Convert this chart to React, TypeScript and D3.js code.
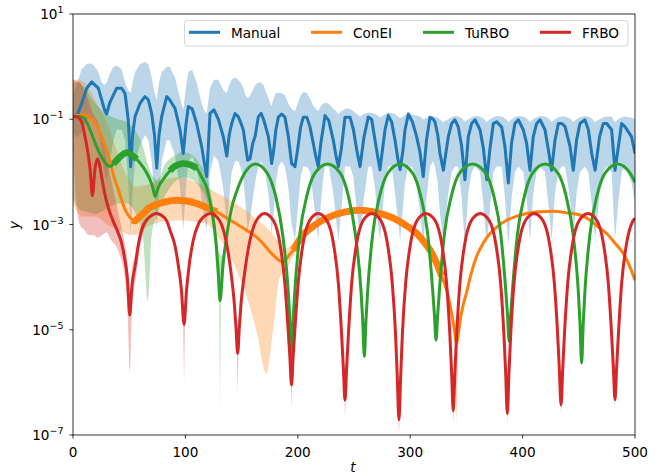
import React from "react";
import * as d3 from "d3";

// All y values are log10(y).
// Manual: [t, mean, lower, upper]
const manual: number[][] = [
  [0, -0.95, -1.25, -0.55], [3.8, -0.92, -1.35, -0.3], [7.7, -0.7, -1.25, -0.05], [12.2, -0.41, -1.0, 0.05],
  [16.6, -0.29, -0.95, 0.06], [19.6, -0.35, -1.0, 0.0], [22.5, -0.41, -1.2, -0.1], [25.5, -0.63, -1.6, -0.3],
  [28, -0.82, -2.0, -0.35], [30, -0.9, -2.2, -0.3], [32.5, -0.7, -1.8, -0.15], [35.9, -0.54, -1.4, 0.0],
  [38.9, -0.41, -1.2, 0.02], [43.3, -0.41, -1.2, -0.05], [46.3, -0.51, -1.4, -0.3], [49.2, -1.02, -2.2, -0.45],
  [51.3, -1.9, -3.2, -0.5], [53, -1.3, -2.4, -0.3], [55.2, -0.95, -1.8, -0.1], [59.6, -0.7, -1.5, 0.05],
  [64, -0.57, -1.3, 0.09], [67, -0.63, -1.4, 0.05], [70, -0.89, -1.8, -0.2], [72.5, -1.3, -2.4, -0.5],
  [74.5, -1.93, -3.1, -0.63], [76.5, -1.3, -2.4, -0.3], [78.9, -0.95, -1.8, -0.1], [83.4, -0.57, -1.4, 0.0],
  [86, -0.63, -1.4, 0.0], [90.7, -0.79, -1.7, -0.2], [95.2, -1.2, -2.3, -0.6], [98.1, -1.65, -3.1, -0.82],
  [100.5, -1.1, -2.3, -0.4], [102.6, -0.76, -1.8, -0.1], [106, -0.8, -1.7, -0.06], [110, -1.08, -1.9, -0.3],
  [114.5, -1.52, -2.5, -0.7], [117, -1.85, -2.9, -0.85], [119, -2.09, -3.1, -0.89], [121.9, -0.89, -2.0, -0.4],
  [125.4, -0.82, -1.7, -0.25], [129.3, -1.0, -1.8, -0.25], [133.7, -1.33, -2.3, -0.45], [136.8, -1.7, -3.0, -0.5],
  [139, -1.3, -2.5, -0.35], [141.2, -1.08, -2.0, -0.25], [144.2, -0.89, -1.8, -0.2], [147, -0.95, -1.8, -0.25],
  [149, -1.05, -1.9, -0.3], [151.5, -1.2, -2.1, -0.4], [153.5, -1.5, -2.6, -0.55], [155.4, -1.78, -3.1, -0.6],
  [157.5, -1.75, -2.9, -0.55], [160, -1.45, -2.5, -0.45], [162, -1.33, -2.2, -0.35], [164.9, -0.95, -1.9, -0.3],
  [167.3, -0.89, -1.8, -0.3], [169.5, -1.0, -1.9, -0.35], [171, -1.11, -2.0, -0.45], [173.8, -1.33, -2.4, -0.6],
  [175.5, -1.6, -2.8, -0.7], [176.7, -1.84, -3.2, -0.75], [178.5, -1.6, -2.8, -0.6], [180.5, -1.2, -2.2, -0.5],
  [182.7, -0.96, -1.9, -0.5], [185.6, -0.9, -1.8, -0.5], [188.6, -0.96, -1.9, -0.55], [191.6, -1.33, -2.3, -0.7],
  [194.5, -1.84, -3.0, -0.8], [197.5, -1.9, -3.3, -0.85], [200, -1.55, -2.7, -0.7], [202.5, -1.15, -2.1, -0.55],
  [204.9, -0.96, -1.9, -0.48], [208, -0.96, -1.9, -0.5], [210.8, -1.14, -2.0, -0.6], [213.8, -1.46, -2.5, -0.75],
  [216, -1.7, -2.9, -0.8], [218.2, -1.9, -3.3, -0.85], [220.5, -1.45, -2.6, -0.75], [222.7, -1.15, -2.1, -0.7],
  [224.2, -0.93, -1.9, -0.68], [227.5, -1.02, -1.9, -0.7], [231.6, -1.4, -2.4, -0.8], [234, -1.7, -2.9, -0.85],
  [236.1, -1.9, -3.3, -0.9], [238.8, -1.55, -2.7, -0.85], [242, -0.96, -1.9, -0.8], [246.5, -0.96, -1.9, -0.8],
  [249.5, -1.2, -2.1, -0.85], [252.4, -1.58, -2.7, -0.9], [255.4, -1.9, -3.3, -0.95], [258.8, -1.35, -2.5, -0.9],
  [262.7, -0.96, -1.9, -0.87], [265.7, -1.0, -1.9, -0.88], [268.7, -1.4, -2.3, -0.9], [271, -1.7, -2.9, -0.93],
  [273.1, -1.96, -3.3, -0.97], [277.6, -1.2, -2.2, -0.9], [280.5, -0.93, -1.9, -0.87], [283.5, -1.05, -1.9, -0.88],
  [286.5, -1.4, -2.4, -0.9], [289, -1.75, -2.9, -0.95], [291, -1.96, -3.3, -0.98], [293.5, -1.6, -2.7, -0.95],
  [295.4, -1.2, -2.2, -0.92], [298.4, -0.9, -1.9, -0.9], [302, -1.05, -1.9, -0.92], [305.7, -1.33, -2.3, -0.93],
  [308.5, -1.6, -2.7, -0.95], [311.6, -2.09, -3.4, -1.0], [314.5, -1.4, -2.5, -0.97], [317.6, -0.96, -1.9, -0.94],
  [320.5, -1.0, -1.8, -0.94], [322, -1.05, -1.9, -0.95], [324.5, -1.3, -2.2, -0.97], [326.5, -1.65, -2.8, -1.0],
  [329.5, -1.97, -3.3, -1.05], [333.9, -1.33, -2.4, -1.0], [336.9, -1.08, -2.0, -0.96], [339.8, -1.01, -1.9, -0.94],
  [342.8, -1.15, -1.9, -0.95], [345.8, -1.52, -2.5, -0.98], [348.7, -2.15, -3.4, -1.05], [351.7, -1.33, -2.4, -1.0],
  [354.7, -1.08, -2.0, -0.96], [357.7, -1.01, -1.9, -0.94], [362.1, -1.2, -2.0, -0.95], [365.1, -1.55, -2.6, -0.98],
  [368.1, -2.15, -3.4, -1.05], [371, -1.55, -2.7, -1.0], [374, -1.08, -2.0, -0.96], [377, -1.05, -1.9, -0.94],
  [381.4, -1.15, -1.9, -0.95], [384.3, -1.52, -2.5, -0.98], [387.3, -2.21, -3.4, -1.05], [390.2, -1.45, -2.5, -1.0],
  [393.2, -1.08, -2.0, -0.96], [396.2, -1.01, -1.9, -0.94], [400.6, -1.2, -2.0, -0.95], [403.6, -1.46, -2.5, -0.98],
  [406.6, -1.97, -3.3, -1.05], [409.5, -1.33, -2.4, -1.0], [412.5, -1.08, -2.0, -0.96], [415.5, -1.01, -1.9, -0.94],
  [419.9, -1.2, -2.0, -0.95], [422.9, -1.58, -2.6, -0.98], [425.8, -1.97, -3.3, -1.05], [428.8, -1.4, -2.4, -1.0],
  [431.8, -1.08, -2.0, -0.96], [434.8, -1.08, -1.9, -0.95], [437.8, -1.14, -1.9, -0.95], [442.2, -1.52, -2.5, -0.98],
  [445.1, -1.97, -3.3, -1.05], [448, -1.4, -2.4, -1.0], [451, -1.08, -2.0, -0.96], [455.5, -1.01, -1.9, -0.94],
  [458.5, -1.2, -2.0, -0.95], [461.5, -1.65, -2.6, -0.98], [464.5, -1.97, -3.3, -1.05], [468.5, -1.33, -2.4, -1.0],
  [471.8, -1.08, -2.0, -0.96], [474.8, -1.08, -1.9, -0.95], [479.2, -1.2, -2.0, -0.95], [482.2, -1.97, -3.3, -1.05],
  [485, -1.55, -2.6, -1.0], [488.1, -1.08, -2.0, -0.96], [491, -1.14, -1.9, -0.95], [496.9, -1.33, -2.2, -0.97],
  [500, -1.65, -2.6, -1.0],
];

// ConEI mean: [t, log10 y]
const conei: number[][] = [
  [0, -0.95], [4, -0.93], [8, -0.92], [12.2, -0.93], [15, -0.97], [18, -1.03], [21, -1.12], [24, -1.26],
  [27, -1.42], [30, -1.6], [33, -1.82], [35.9, -2.05], [38, -2.2], [40.3, -2.33], [43, -2.52], [45.6, -2.68],
  [47.7, -2.77], [50, -2.85], [53, -2.91], [55.2, -2.93], [58, -2.88], [62.5, -2.79], [68, -2.68], [74.5, -2.62],
  [82, -2.57], [92.2, -2.54], [100, -2.55], [110, -2.6], [118, -2.67], [127.8, -2.76], [137, -2.88], [145.6, -2.99],
  [155, -3.12], [163.4, -3.24], [169, -3.36], [175.3, -3.52], [180, -3.62], [184, -3.69], [187.1, -3.71], [190, -3.65],
  [193, -3.56], [196, -3.49], [200, -3.34], [205.6, -3.18], [210.9, -3.08], [218, -2.97], [225.7, -2.88], [235, -2.8],
  [245, -2.75], [255.3, -2.73], [265, -2.75], [275, -2.8], [285, -2.88], [295, -3.0], [305.8, -3.17], [312, -3.32],
  [318, -3.5], [323.6, -3.74], [328, -3.98], [331, -4.15], [333.9, -4.37], [336.5, -4.65], [339, -4.95], [341.3, -5.26],
  [343, -5.05], [345, -4.75], [347.5, -4.5], [350.3, -4.28], [354, -3.95], [359.2, -3.6], [365, -3.35], [371, -3.17],
  [378, -3.03], [385.8, -2.92], [395, -2.84], [403.6, -2.79], [415, -2.76], [427.3, -2.75], [440, -2.78], [451, -2.82],
  [460, -2.92], [467, -3.04], [474.8, -3.17], [482, -3.35], [489.6, -3.55], [495, -3.78], [500, -4.06],
];
// ConEI band: [t, lower, upper]
const coneiBand: number[][] = [
  [0, -2.6, -0.25], [5, -2.8, -0.25], [10, -2.85, -0.3], [15, -2.85, -0.45], [20, -2.85, -0.65], [25, -2.9, -0.85],
  [30, -3.0, -1.05], [35, -3.05, -1.35], [40, -3.1, -1.65], [45, -3.15, -1.95], [50, -3.2, -2.15], [55, -3.2, -2.28],
  [65, -3.05, -2.25], [80, -2.95, -2.15], [95, -2.92, -2.1], [110, -2.95, -2.2], [120, -3.0, -2.3], [128, -3.2, -2.4],
  [137, -3.5, -2.5], [146, -3.9, -2.62], [155, -4.4, -2.75], [163, -5.0, -2.9], [172, -5.83, -3.05], [178, -5.0, -3.2],
  [184, -4.0, -3.35], [190, -3.85, -3.45], [196, -3.6, -3.35], [205, -3.3, -3.05],
];
const coneiSpikes: number[][] = [[341.3, -4.9, -6.83, 2.0]];
const coneiThick: number[][] = [[52, 130], [196, 330]];

// TuRBO mean
const turbo: number[][] = [
  [0, -0.95], [4, -0.95], [9.2, -0.97], [12, -1.05], [15.1, -1.2], [18, -1.36], [21, -1.52], [24, -1.66],
  [27, -1.78], [30, -1.86], [33, -1.9], [36, -1.85], [38.9, -1.78], [42, -1.71], [45, -1.66], [47.7, -1.63],
  [51, -1.66], [54, -1.71], [56.7, -1.76], [60, -1.84], [63, -1.93], [65.6, -2.02], [68.5, -2.15], [71, -2.3],
  [73, -2.47], [75, -2.35], [77.5, -2.22], [80, -2.15], [83.4, -2.05], [86.3, -1.98], [90, -1.9], [94, -1.86],
  [98.1, -1.84], [102, -1.85], [106, -1.88], [110, -1.93], [115, -2.12], [119, -2.3], [122.7, -2.65], [125.5, -3.0],
  [127.5, -3.4], [129.2, -3.9], [130.8, -4.45], [133.5, -3.75], [136.7, -3.23], [141, -2.7], [146, -2.35], [152, -2.05],
  [162.3, -1.85], [173, -2.03], [180.4, -2.47], [186.4, -3.17], [191.4, -4.25], [192.9, -4.8], [194.4, -5.61], [195.9, -4.8],
  [197.4, -4.25], [201.9, -3.17], [207.9, -2.47], [215.1, -2.03], [226.5, -1.85], [237.9, -2.03], [245.1, -2.47], [251.1, -3.17],
  [256.2, -4.25], [257.7, -4.8], [259.2, -5.51], [260.7, -4.8], [262.2, -4.25], [266.7, -3.17], [272.7, -2.47], [279.9, -2.03],
  [291, -1.85], [302.3, -2.03], [309.5, -2.47], [315.5, -3.17], [320, -4.25], [321.5, -4.7], [323, -5.2], [324.5, -4.7],
  [326, -4.25], [330.5, -3.17], [336.5, -2.47], [343.7, -2.03], [355.5, -1.85], [367.3, -2.03], [374.5, -2.47], [380.5, -3.17],
  [385, -4.25], [386.5, -4.7], [388, -5.22], [389.5, -4.7], [391, -4.25], [395.5, -3.17], [401.5, -2.47], [408.7, -2.03],
  [420, -1.85], [431.6, -2.03], [438.8, -2.47], [444.8, -3.17], [449.5, -4.25], [451, -4.85], [452.5, -5.63], [454, -4.85],
  [455.5, -4.25], [460, -3.17], [466, -2.47], [473.2, -2.03], [484.5, -1.85], [495.8, -2.03], [500, -2.2],
];
const turboBand: number[][] = [
  [0, -2.5, -0.3], [5, -2.7, -0.3], [10, -2.75, -0.4], [20, -2.8, -0.7], [30, -2.7, -0.9], [40, -2.6, -1.0],
  [48, -2.6, -1.05], [55, -2.75, -1.2], [62, -3.2, -1.5], [66.5, -4.45, -1.85], [70, -3.2, -2.05], [75, -2.8, -2.15],
  [82, -2.45, -1.85], [90, -2.2, -1.7], [98, -2.1, -1.62], [106, -2.15, -1.68], [113, -2.3, -1.85], [120, -2.6, -2.15],
  [125, -3.2, -2.7], [129, -4.1, -3.5], [132.5, -4.2, -3.6], [136, -3.35, -3.15],
];
const turboSpikes: number[][] = [[130.8, -4.2, -6.55, 0.8]];
const turboThick: number[][] = [[36, 58], [85, 112]];

// FRBO mean
const frbo: number[][] = [
  [0, -0.95], [4, -0.96], [7.7, -1.05], [10.7, -1.33], [13, -1.6], [15.2, -1.95], [17.3, -2.45], [19.5, -1.95],
  [21.8, -1.75], [23.5, -1.85], [25.5, -2.1], [28.6, -2.45], [32, -2.72], [36, -2.95], [40, -3.15], [43.3, -3.36],
  [46, -3.65], [48.5, -4.05], [50.5, -4.72], [52.5, -4.15], [55.2, -3.8], [58, -3.4], [61.1, -3.1], [65, -2.93],
  [68.5, -2.85], [74, -2.79], [79, -2.83], [83.4, -2.93], [87, -3.15], [90.7, -3.4], [93.5, -3.75], [96.5, -4.25],
  [98.8, -4.9], [101, -4.25], [103.5, -3.75], [107, -3.3], [112, -2.97], [117, -2.84], [122.5, -2.79],
  [130.5, -2.93], [136.5, -3.35], [140.5, -3.9], [143.5, -4.5], [145, -4.95], [146.5, -5.45], [148, -4.95], [149.5, -4.5],
  [152.5, -3.95], [156.5, -3.4], [162.5, -2.95], [170.4, -2.79],
  [178.4, -2.93], [184.4, -3.4], [188.4, -4.1], [191.4, -5.0], [192.9, -5.5], [194.4, -6.05], [195.9, -5.5], [197.4, -5.0],
  [200.4, -4.1], [204.4, -3.4], [210.4, -2.93], [218.2, -2.79],
  [226, -2.93], [232, -3.4], [236, -4.1], [239, -5.1], [240.5, -5.7], [242, -6.34], [243.5, -5.7], [245, -5.1],
  [248, -4.1], [252, -3.4], [258, -2.93], [266, -2.79],
  [274, -2.93], [280, -3.4], [284, -4.1], [287, -5.1], [288.5, -5.9], [290, -6.71], [291.5, -5.9], [293, -5.1],
  [296, -4.1], [300, -3.4], [306, -2.93], [314, -2.79],
  [322.3, -2.93], [328.3, -3.4], [332.3, -4.1], [335.3, -5.1], [336.8, -5.8], [338.3, -6.54], [339.8, -5.8], [341.3, -5.1],
  [344.3, -4.1], [348.3, -3.4], [354.3, -2.93], [362.3, -2.79],
  [370.4, -2.93], [376.4, -3.4], [380.4, -4.1], [383.4, -5.1], [384.9, -5.8], [386.4, -6.59], [387.9, -5.8], [389.4, -5.1],
  [392.4, -4.1], [396.4, -3.4], [402.4, -2.93], [410.3, -2.79],
  [418.2, -2.93], [424.2, -3.4], [428.2, -4.1], [431.2, -5.1], [432.7, -5.75], [434.2, -6.43], [435.7, -5.75], [437.2, -5.1],
  [440.2, -4.1], [444.2, -3.4], [450.2, -2.93], [458.2, -2.79],
  [466.2, -2.93], [472.2, -3.4], [476.2, -4.1], [479.2, -5.1], [480.7, -5.7], [482.2, -6.33], [483.7, -5.7], [485.2, -5.1],
  [488.2, -4.1], [492.2, -3.4], [498.2, -2.93], [500, -2.88],
];
const frboBand: number[][] = [
  [0, -1.6, -0.25], [3, -2.6, -0.28], [6, -3.0, -0.3], [10, -3.1, -0.45], [14, -3.2, -0.65], [18, -3.2, -0.9],
  [22, -3.25, -1.05], [26, -3.2, -1.35], [30, -3.15, -1.75], [34, -3.3, -2.15], [38, -3.4, -2.55], [42, -3.6, -2.95],
  [46, -4.0, -3.35], [48.5, -4.6, -3.7], [50.5, -5.8, -4.3], [52.5, -4.6, -3.85], [56, -4.0, -3.55], [60, -3.4, -3.05],
  [65, -3.0, -2.88],
];
const frboSpikes: number[][] = [
  [98.8, -4.6, -6.0, 1.0], [146.5, -5.1, -6.2, 1.0], [194.4, -5.8, -6.5, 0.8], [242, -6.1, -6.7, 0.8],
  [290, -6.5, -7.0, 0.8], [338.3, -6.3, -6.8, 0.8], [386.4, -6.3, -6.8, 0.8], [434.2, -6.2, -6.6, 0.8],
  [482.2, -6.1, -6.5, 0.8],
];

const legendLabels = ["Manual", "ConEI", "TuRBO", "FRBO"];
const colors = ["#1f77b4", "#ff7f0e", "#2ca02c", "#d62728"];
const xTickValues = [0, 100, 200, 300, 400, 500];
const yTickExponents = [1, -1, -3, -5, -7];

const W = 663;
const H = 476;
const L = 73, R = 635, T = 14, B = 435;
const FONT = "DejaVu Sans, Verdana, sans-serif";
const FS = 13.6;

export default function App() {
  const x = d3.scaleLinear().domain([0, 500]).range([L, R]);
  const y = d3.scaleLog().domain([1e-7, 10]).range([B, T]);
  const Y = (e: number) => y(Math.pow(10, e));

  const lineM = d3.line<number[]>().x((d) => x(d[0])).y((d) => Y(d[1])).curve(d3.curveMonotoneX);
  const lineLin = d3.line<number[]>().x((d) => x(d[0])).y((d) => Y(d[1])).curve(d3.curveLinear);
  const bandM = d3.area<number[]>().x((d) => x(d[0])).y0((d) => Y(d[1])).y1((d) => Y(d[2])).curve(d3.curveMonotoneX);
  const bandManual = d3.area<number[]>().x((d) => x(d[0])).y0((d) => Y(d[2])).y1((d) => Y(d[3])).curve(d3.curveLinear);

  const spikePath = (s: number[]) =>
    `M${x(s[0] - s[3])},${Y(s[1])}L${x(s[0])},${Y(s[2])}L${x(s[0] + s[3])},${Y(s[1])}Z`;

  const thick = (data: number[][], ranges: number[][]) =>
    ranges.map((r) => lineM(data.filter((d) => d[0] >= r[0] && d[0] <= r[1])) || "");

  const legendHandleX = [189, 311, 423, 540];

  return (
    <svg width={W} height={H} style={{ position: "absolute", left: 0, top: 0, background: "#fff" }} fontFamily={FONT}>
      <defs>
        <clipPath id="plot">
          <rect x={L} y={T} width={R - L} height={B - T} />
        </clipPath>
      </defs>
      <g clipPath="url(#plot)">
        <path d={bandManual(manual) || ""} fill={colors[0]} fillOpacity={0.3} />
        <path d={bandM(coneiBand) || ""} fill={colors[1]} fillOpacity={0.3} />
        {coneiSpikes.map((s, i) => (
          <path key={"cs" + i} d={spikePath(s)} fill={colors[1]} fillOpacity={0.3} />
        ))}
        <path d={bandM(turboBand) || ""} fill={colors[2]} fillOpacity={0.3} />
        {turboSpikes.map((s, i) => (
          <path key={"ts" + i} d={spikePath(s)} fill={colors[2]} fillOpacity={0.3} />
        ))}
        <path d={bandM(frboBand) || ""} fill={colors[3]} fillOpacity={0.3} />
        {frboSpikes.map((s, i) => (
          <path key={"fs" + i} d={spikePath(s)} fill={colors[3]} fillOpacity={0.3} />
        ))}

        <path d={lineLin(manual) || ""} fill="none" stroke={colors[0]} strokeWidth={3} strokeLinejoin="round" />
        <path d={lineM(conei) || ""} fill="none" stroke={colors[1]} strokeWidth={3} strokeLinejoin="round" />
        {thick(conei, coneiThick).map((d, i) => (
          <path key={"ct" + i} d={d} fill="none" stroke={colors[1]} strokeWidth={7} strokeLinejoin="round" />
        ))}
        <path d={lineM(turbo) || ""} fill="none" stroke={colors[2]} strokeWidth={3} strokeLinejoin="round" />
        {thick(turbo, turboThick).map((d, i) => (
          <path key={"tt" + i} d={d} fill="none" stroke={colors[2]} strokeWidth={6.5} strokeLinejoin="round" />
        ))}
        <path d={lineM(frbo) || ""} fill="none" stroke={colors[3]} strokeWidth={3} strokeLinejoin="round" />
      </g>

      {/* frame */}
      <rect x={L} y={T} width={R - L} height={B - T} fill="none" stroke="#000" strokeWidth={0.8} />

      {/* x ticks */}
      {xTickValues.map((v) => (
        <g key={"x" + v}>
          <line x1={x(v)} x2={x(v)} y1={B} y2={B + 3.5} stroke="#000" strokeWidth={0.8} />
          <text x={x(v)} y={B + 21.7} textAnchor="middle" fontSize={FS} fill="#000">
            {v}
          </text>
        </g>
      ))}
      {/* y ticks */}
      {yTickExponents.map((e) => (
        <g key={"y" + e}>
          <line x1={L - 3.5} x2={L} y1={Y(e)} y2={Y(e)} stroke="#000" strokeWidth={0.8} />
          <text x={L - 9.5} y={Y(e) + 5} textAnchor="end" fontSize={FS} fill="#000">
            10
            <tspan dy={-6} fontSize={FS * 0.7}>
              {e < 0 ? "\u2212" + Math.abs(e) : String(e)}
            </tspan>
          </text>
        </g>
      ))}

      {/* axis labels */}
      <text x={353} y={471.5} textAnchor="middle" fontSize={FS} fontStyle="italic" fill="#000">
        t
      </text>
      <text x={18.5} y={225} textAnchor="middle" fontSize={FS} fontStyle="italic" fill="#000" transform="rotate(-90,18.5,225)">
        y
      </text>

      {/* legend */}
      <rect x={184.5} y={20.5} width={443.5} height={25.5} rx={3} fill="#fff" fillOpacity={0.8} stroke="#cccccc" strokeWidth={0.8} />
      {legendLabels.map((lab, i) => (
        <g key={lab}>
          <line x1={legendHandleX[i]} x2={legendHandleX[i] + 31} y1={32.3} y2={32.3} stroke={colors[i]} strokeWidth={3} />
          <text x={legendHandleX[i] + 42} y={37.5} fontSize={FS} fill="#000">
            {lab}
          </text>
        </g>
      ))}
    </svg>
  );
}
